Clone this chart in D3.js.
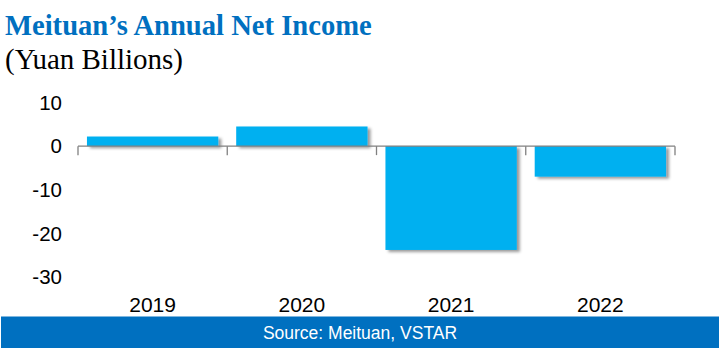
<!DOCTYPE html>
<html>
<head>
<meta charset="utf-8">
<script src="https://cdn.jsdelivr.net/npm/d3@7"></script>
<style>
  body { margin: 0; background: #fff; }
  svg { display: block; }
</style>
</head>
<body>
<div id="chart"></div>
<script>
// chart data
var years = ["2019", "2020", "2021", "2022"];
var netIncome = [2.2, 4.5, -23.8, -7.0];
var yTicks = [10, 0, -10, -20, -30];

var W = 720, H = 352;
var svg = d3.select("#chart").append("svg").attr("width", W).attr("height", H);

// shadow behind bars
var defs = svg.append("defs");
var f = defs.append("filter").attr("id", "shadow").attr("x", "-10%").attr("y", "-10%").attr("width", "130%").attr("height", "140%");
f.append("feDropShadow").attr("dx", 3).attr("dy", 2).attr("stdDeviation", 1.5).attr("flood-color", "#000").attr("flood-opacity", 0.4);

// titles
svg.append("text").attr("x", 5).attr("y", 35)
  .attr("font-family", "Liberation Serif, Times New Roman, serif").attr("font-weight", "bold")
  .attr("font-size", 28.6).attr("fill", "#0070C0").text("Meituan\u2019s Annual Net Income");
svg.append("text").attr("x", 5).attr("y", 69)
  .attr("font-family", "Liberation Serif, Times New Roman, serif")
  .attr("font-size", 29).attr("fill", "#000").text("(Yuan Billions)");

var x = d3.scaleBand().domain(years).range([78, 675]).paddingInner(0.12).paddingOuter(0.06);
var y = d3.scaleLinear().domain([-30, 10]).range([277, 102.5]);

// bars
svg.append("g").attr("filter", "url(#shadow)").selectAll("rect").data(years).enter().append("rect")
  .attr("x", function (d) { return x(d); })
  .attr("width", x.bandwidth())
  .attr("y", function (d, i) { return y(Math.max(0, netIncome[i])); })
  .attr("height", function (d, i) { return Math.abs(y(netIncome[i]) - y(0)); })
  .attr("fill", "#00B0F0");

// zero axis with category boundary ticks
var axisG = svg.append("g");
axisG.append("line").attr("x1", 78).attr("x2", 675).attr("y1", y(0)).attr("y2", y(0))
  .attr("stroke", "#808080").attr("stroke-width", 1.3);
var bounds = years.map(function (d) { return x(d) - x.step() * x.paddingInner() / 2; });
bounds[0] = 78;
bounds.push(675);
axisG.selectAll("line.tk").data(bounds).enter().append("line").attr("class", "tk")
  .attr("x1", function (d) { return d; }).attr("x2", function (d) { return d; })
  .attr("y1", y(0)).attr("y2", y(0) + 9)
  .attr("stroke", "#808080").attr("stroke-width", 1.3);

// y labels
svg.append("g").selectAll("text").data(yTicks).enter().append("text")
  .attr("x", 62).attr("y", function (d) { return y(d) + 7.3; })
  .attr("text-anchor", "end").attr("font-family", "Liberation Sans, Arial, sans-serif")
  .attr("font-size", 20.5).attr("fill", "#000").text(function (d) { return d; });

// x labels
svg.append("g").selectAll("text").data(years).enter().append("text")
  .attr("x", function (d) { return x(d) + x.bandwidth() / 2; }).attr("y", 312)
  .attr("text-anchor", "middle").attr("font-family", "Liberation Sans, Arial, sans-serif")
  .attr("font-size", 21).attr("fill", "#000").text(function (d) { return d; });

// source band
svg.append("rect").attr("x", 1).attr("y", 316.5).attr("width", W - 2).attr("height", 31.5).attr("fill", "#0070C0");
svg.append("text").attr("x", 360).attr("y", 338.5).attr("text-anchor", "middle")
  .attr("font-family", "Liberation Sans, Arial, sans-serif").attr("font-size", 17.5)
  .attr("fill", "#fff").text("Source: Meituan, VSTAR");
</script>
</body>
</html>
